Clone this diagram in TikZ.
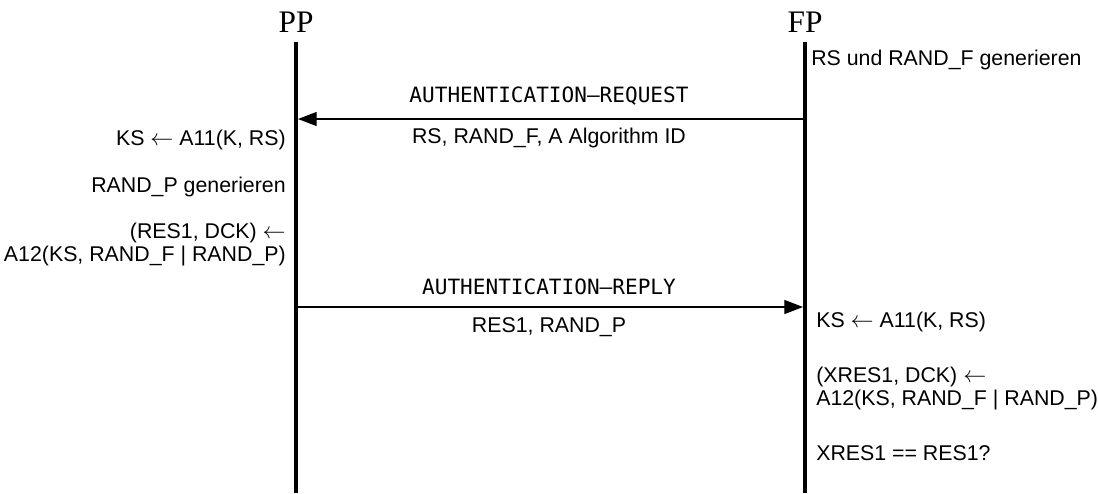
\documentclass[tikz,border=0pt]{standalone}
\usepackage{fontspec}
\setmainfont{Liberation Sans}
\newfontfamily\headfont{Liberation Serif}
\newfontfamily\msgfont{DejaVu Sans Mono}
\usetikzlibrary{arrows.meta}

\begin{document}
\begin{tikzpicture}[x=0.75pt,y=-0.75pt,
  lifeline/.style={line width=3pt},
  msg/.style={line width=0.9pt,-{Triangle[length=14pt,width=10.5pt]},shorten >=1.5pt},
  head/.style={font=\headfont\fontsize{23.5}{28}\selectfont,anchor=base,inner sep=0pt},
  msgname/.style={font=\msgfont\fontsize{15.8}{19}\selectfont,anchor=base,inner sep=0pt},
  payload/.style={font=\fontsize{16}{18}\selectfont,anchor=base,inner sep=0pt},
  lnote/.style={font=\fontsize{16}{18}\selectfont,anchor=base east,inner sep=0pt},
  rnote/.style={font=\fontsize{16}{18}\selectfont,anchor=base west,inner sep=0pt}]
\useasboundingbox (0,0) rectangle (1098,493);

% participants and lifelines
\node[head] (pp) at (296,32) {PP};
\node[head] (fp) at (805,32) {FP};
\coordinate (ppTop) at (296,42);
\coordinate (ppEnd) at (296,493);
\coordinate (fpTop) at (805,42);
\coordinate (fpEnd) at (805,493);
\draw[lifeline] (ppTop) -- (ppEnd);
\draw[lifeline] (fpTop) -- (fpEnd);

% FP start
\node[rnote] (fpGen) at (811,65) {RS und RAND\_F generieren};

% request FP -> PP
\coordinate (reqFP) at (805,119);
\coordinate (reqPP) at (296,119);
\draw[msg] (reqFP) -- (reqPP);
\node[msgname] (reqName) at (549,102) {AUTHENTICATION–REQUEST};
\node[payload] (reqData) at (549,143) {RS, RAND\_F, A Algorithm ID};

% PP computations
\node[lnote] (ppKs) at (286,145) {KS $\leftarrow$ A11(K, RS)};
\node[lnote] (ppGen) at (286,192) {RAND\_P generieren};
\node[lnote] (ppRes) at (286,238) {(RES1, DCK) $\leftarrow$};
\node[lnote] (ppResB) at (286,261) {A12(KS, RAND\_F | RAND\_P)};

% reply PP -> FP
\coordinate (repPP) at (296,307);
\coordinate (repFP) at (805,307);
\draw[msg] (repPP) -- (repFP);
\node[msgname] (repName) at (549,294) {AUTHENTICATION–REPLY};
\node[payload] (repData) at (549,332) {RES1, RAND\_P};

% FP computations
\node[rnote] (fpKs) at (816,327) {KS $\leftarrow$ A11(K, RS)};
\node[rnote] (fpRes) at (816,382) {(XRES1, DCK) $\leftarrow$};
\node[rnote] (fpResB) at (816,405) {A12(KS, RAND\_F | RAND\_P)};
\node[rnote] (fpCheck) at (816,460) {XRES1 == RES1?};
\end{tikzpicture}
\end{document}
